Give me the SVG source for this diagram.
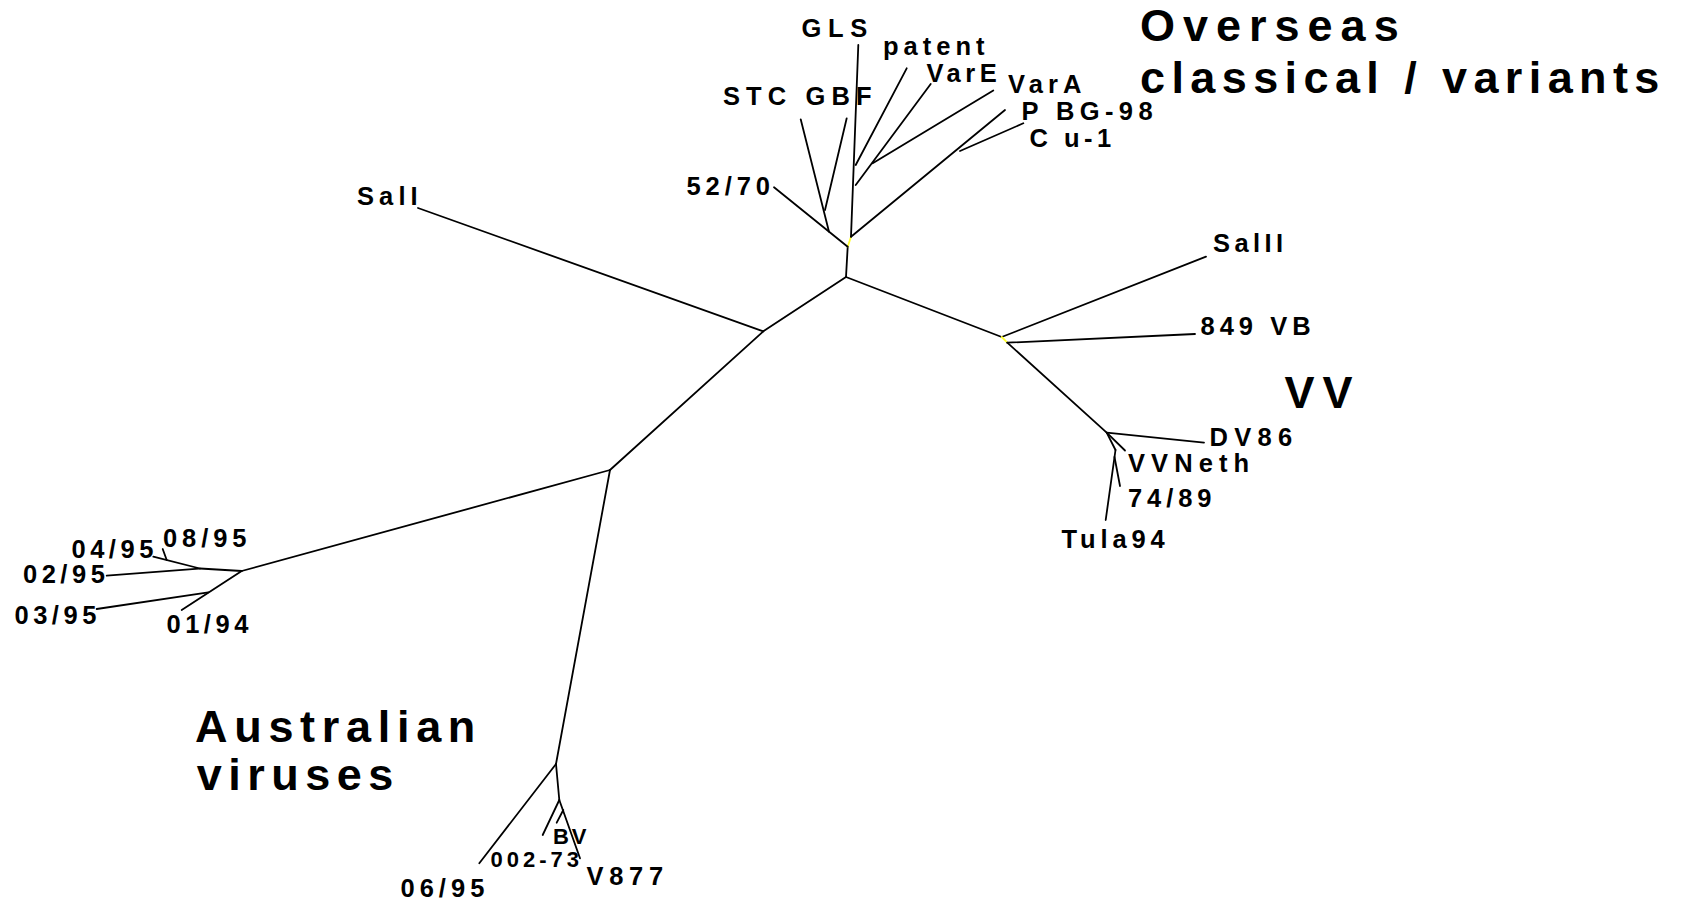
<svg xmlns="http://www.w3.org/2000/svg" width="1681" height="902" viewBox="0 0 1681 902">
<style>
text{font-family:"Liberation Sans",Arial,sans-serif;font-weight:bold;fill:#000}
.lb{font-size:25.5px}
.sm{font-size:22px}
.big{font-size:45px}
#edges line{stroke:#000;stroke-width:1.8;fill:none;stroke-linecap:round}
#edges .y{stroke:#ffff33}
</style>
<rect width="1681" height="902" fill="#fff"/>
<g id="edges">
<line x1="846" y1="277" x2="847.7" y2="246.7"/>
<line class="y" x1="847.7" y1="246.7" x2="851" y2="236.7"/>
<line x1="847.7" y1="246.7" x2="774" y2="187.3"/>
<line x1="829" y1="231.7" x2="800.7" y2="119.3"/>
<line x1="825" y1="210" x2="846.7" y2="118.3"/>
<line x1="851" y1="236.7" x2="858.3" y2="45"/>
<line x1="855.7" y1="165" x2="906.7" y2="68.3"/>
<line x1="855.7" y1="185" x2="930.7" y2="84"/>
<line x1="872.7" y1="163.3" x2="993.3" y2="90.5"/>
<line x1="851" y1="236.7" x2="1005" y2="110"/>
<line x1="960" y1="151" x2="1023.3" y2="123.3"/>
<line x1="846" y1="277" x2="763.3" y2="331.3"/>
<line x1="763.3" y1="331.3" x2="418" y2="208"/>
<line x1="763.3" y1="331.3" x2="610" y2="470"/>
<line x1="610" y1="470" x2="241.7" y2="571"/>
<line x1="610" y1="470" x2="556" y2="764"/>
<line x1="846" y1="277" x2="1001.7" y2="337"/>
<line x1="1001.7" y1="337" x2="1206" y2="256.7"/>
<line class="y" x1="1001.7" y1="337" x2="1007.3" y2="342.7"/>
<line x1="1007.3" y1="342.7" x2="1195" y2="334"/>
<line x1="1007.3" y1="342.7" x2="1106.7" y2="432.7"/>
<line x1="1106.7" y1="432.7" x2="1204" y2="442.7"/>
<line x1="1106.7" y1="432.7" x2="1125" y2="450.5"/>
<line x1="1106.7" y1="432.7" x2="1115.5" y2="450"/>
<line x1="1115.5" y1="450" x2="1105.7" y2="520"/>
<line x1="1114.5" y1="457" x2="1120" y2="486"/>
<line x1="241.7" y1="571" x2="200" y2="568.5"/>
<line x1="200" y1="568.5" x2="153.3" y2="556.7"/>
<line x1="166.7" y1="560" x2="162.7" y2="549"/>
<line x1="199" y1="568.7" x2="106.7" y2="575.7"/>
<line x1="241.7" y1="571" x2="181.7" y2="610"/>
<line x1="208.3" y1="592.3" x2="96.7" y2="609"/>
<line x1="556" y1="764" x2="479.3" y2="863.3"/>
<line x1="556" y1="764" x2="559.3" y2="800"/>
<line x1="559.3" y1="800" x2="542.7" y2="835"/>
<line x1="559.3" y1="800" x2="580" y2="858.3"/>
<line x1="563.3" y1="810" x2="556.7" y2="822.7"/>
</g>
<g id="n-GLS"><text class="lb" x="801.5" y="36.7" letter-spacing="6.7">GLS</text></g>
<g id="n-patent"><text class="lb" x="883" y="55" letter-spacing="5">patent</text></g>
<g id="n-VarE"><text class="lb" x="926.5" y="81.7" letter-spacing="4.5">VarE</text></g>
<g id="n-VarA"><text class="lb" x="1008" y="93.3" letter-spacing="5.1">VarA</text></g>
<g id="n-PBG98"><text class="lb" x="1021.5" y="120" letter-spacing="5.4">P BG-98</text></g>
<g id="n-Cu1"><text class="lb" x="1029.5" y="146.7" letter-spacing="4.5">C u-1</text></g>
<g id="n-STCGBF"><text class="lb" x="723" y="105" letter-spacing="6.1">STC GBF</text></g>
<g id="n-5270"><text class="lb" x="686.5" y="195" letter-spacing="4.9">52/70</text></g>
<g id="n-SalI"><text class="lb" x="357" y="204.5" letter-spacing="5.1">SalI</text></g>
<g id="n-SalII"><text class="lb" x="1213" y="252.3" letter-spacing="4.4">SalII</text></g>
<g id="n-849VB"><text class="lb" x="1200.5" y="335" letter-spacing="5">849 VB</text></g>
<g id="n-DV86"><text class="lb" x="1209.5" y="445.7" letter-spacing="6.3">DV86</text></g>
<g id="n-VVNeth"><text class="lb" x="1128" y="471.7" letter-spacing="6.1">VVNeth</text></g>
<g id="n-7489"><text class="lb" x="1128" y="506.7" letter-spacing="4.9">74/89</text></g>
<g id="n-Tula94"><text class="lb" x="1061.5" y="548.3" letter-spacing="4.85">Tula94</text></g>
<g id="n-0895"><text class="lb" x="163" y="546.7" letter-spacing="4.9">08/95</text></g>
<g id="n-0495"><text class="lb" x="71.5" y="558.3" letter-spacing="4.5">04/95</text></g>
<g id="n-0295"><text class="lb" x="23" y="583.3" letter-spacing="4.5">02/95</text></g>
<g id="n-0395"><text class="lb" x="14.5" y="624" letter-spacing="4.5">03/95</text></g>
<g id="n-0194"><text class="lb" x="166.5" y="633.3" letter-spacing="4.5">01/94</text></g>
<g id="n-0695"><text class="lb" x="400.5" y="896.5" letter-spacing="5">06/95</text></g>
<g id="n-00273"><text class="sm" x="490.5" y="866.7" letter-spacing="4">002-73</text></g>
<g id="n-BV"><text class="sm" x="553" y="844" letter-spacing="2.8">BV</text></g>
<g id="n-V877"><text class="lb" x="586.5" y="885" letter-spacing="5.7">V877</text></g>
<g id="t-VV"><text class="big" x="1284.4" y="407.5" letter-spacing="8">VV</text></g>
<g id="t-overseas"><text class="big" x="1140" y="40.5" letter-spacing="8">Overseas</text><text class="big" x="1140" y="93" letter-spacing="6.4">classical / variants</text></g>
<g id="t-australian"><text class="big" x="195" y="741.8" letter-spacing="6.7">Australian</text><text class="big" x="196.7" y="790" letter-spacing="6.5">viruses</text></g>
</svg>
